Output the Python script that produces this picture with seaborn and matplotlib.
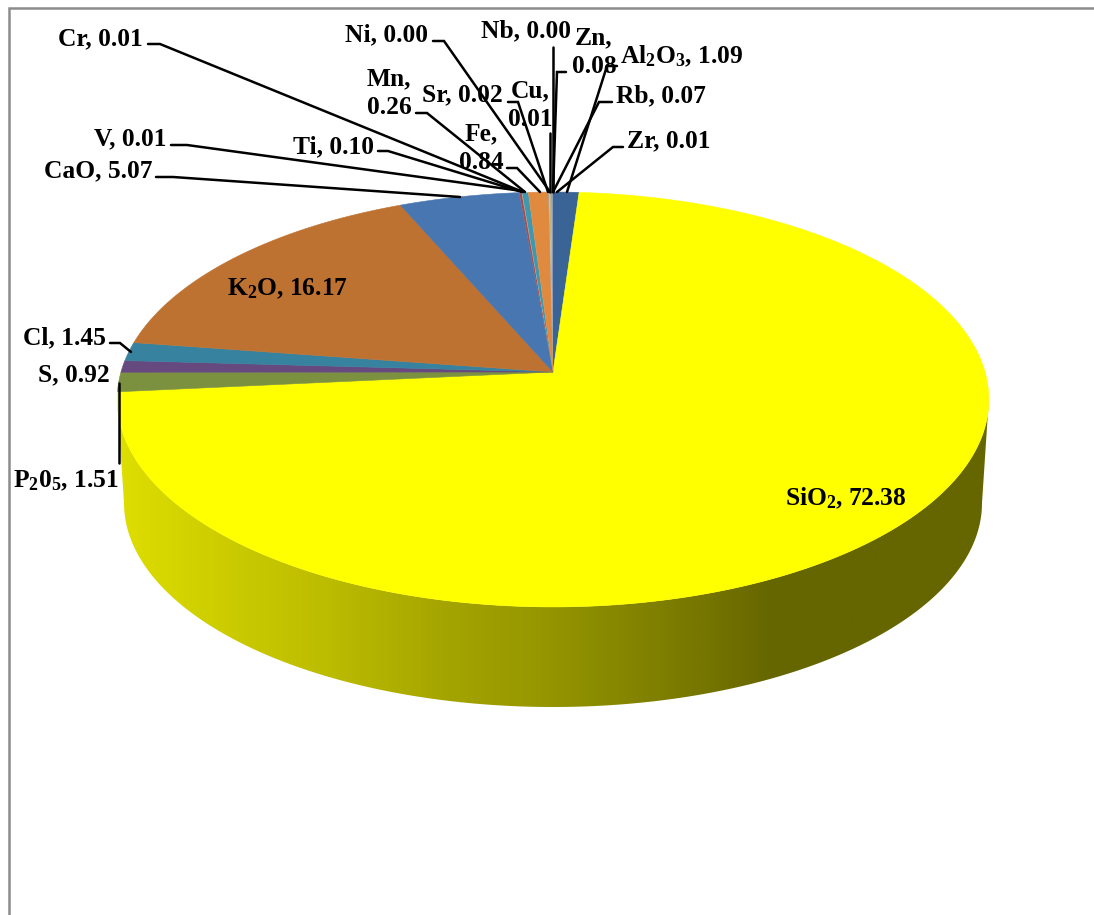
import numpy as np
import matplotlib
matplotlib.use("Agg")
import matplotlib.pyplot as plt
from matplotlib.colors import LinearSegmentedColormap
from matplotlib.patches import Polygon
import seaborn as sns

# Oxide / element composition, clockwise from twelve o'clock
names = ["Al$_{\\mathbf{2}}$O$_{\\mathbf{3}}$", "SiO$_{\\mathbf{2}}$", "P$_{\\mathbf{2}}$0$_{\\mathbf{5}}$",
         "S", "Cl", "K$_{\\mathbf{2}}$O", "CaO", "Ti", "V", "Cr", "Mn", "Fe",
         "Sr", "Ni", "Cu", "Nb", "Zn", "Rb", "Zr"]
values = [1.09, 72.38, 1.51, 0.92, 1.45, 16.17, 5.07, 0.10, 0.01, 0.01, 0.26, 0.84,
          0.02, 0.00, 0.01, 0.00, 0.08, 0.07, 0.01]
colors = ["#3A6496", "#FFFF00", "#7C913F", "#664A7F", "#37839F", "#BE7231", "#4876B0",
          "#A84C4A", "#85A03F", "#6C5590", "#3F98B0", "#E08A40",
          "#7A9EC9", "#C47D7B", "#A9C47E", "#9A8BB5", "#B9B489", "#8A94B4", "#5F86B8"]

# Label layout in figure pixels: name -> (x, y, horizontal anchor, line break after comma)
label_layout = {
    "Al": (620, 56, "left", False), "SiO": (785, 498, "left", False),
    "P$": (119, 481, "right", False), "S": (110, 375, "right", False),
    "Cl": (106, 338, "right", False), "K$": (227, 289, "left", False),
    "CaO": (153, 171, "right", False), "Ti": (374, 147, "right", False),
    "V": (166, 139, "right", False), "Cr": (143, 39, "right", False),
    "Mn": (389, 93, "center", True), "Fe": (481, 148, "center", True),
    "Sr": (503, 95, "right", False), "Ni": (428, 35, "right", False),
    "Cu": (530, 105, "center", True), "Nb": (571, 31, "right", False),
    "Zn": (594, 52, "center", True), "Rb": (616, 96, "left", False),
    "Zr": (627, 141, "left", False),
}
# Leader polylines in figure pixels
leaders = [
    [(148, 44), (160, 44), (523, 192)],
    [(171, 145), (187, 145), (522, 191)],
    [(156, 177), (173, 177), (460, 197)],
    [(378, 151), (388, 151), (522, 192)],
    [(416, 113), (427, 113), (525, 192)],
    [(507, 168), (517, 168), (540, 192)],
    [(433, 41), (444, 41), (550, 192)],
    [(508, 102), (518, 102), (548, 192)],
    [(550, 133), (550, 192)],
    [(553, 47), (553, 192)],
    [(566, 72), (557, 72), (553, 192)],
    [(617, 66), (607, 66), (567, 192)],
    [(612, 102), (599, 102), (553, 192)],
    [(623, 147), (613, 147), (557, 192)],
    [(110, 343), (120, 343), (131, 352)],
    [(119, 383), (119, 463)],
]

# Geometry of the tilted disc, figure pixels
APEX_X, APEX_Y = 553.0, 372.0
SCALE_X, SCALE_Y, PERSP = 432.0, 203.8, 0.1325
RIM_BOTTOM = dict(cx=553.0, cy=503.0, rx=429.0, ry=204.0)

sns.set_theme(style="white")
plt.rcParams["font.family"] = ["Liberation Serif", "DejaVu Serif"]
plt.rcParams["mathtext.fontset"] = "custom"
plt.rcParams["mathtext.rm"] = "Liberation Serif:bold"
plt.rcParams["mathtext.bf"] = "Liberation Serif:bold"
plt.rcParams["mathtext.default"] = "bf"

fig = plt.figure(figsize=(10.94, 9.15), dpi=100, facecolor="white")
ax = fig.add_axes([0, 0, 1, 1])


def project(theta):
    """Perspective projection of the unit circle; theta runs clockwise from the top."""
    u, v = np.sin(theta), np.cos(theta)
    w = 1 + PERSP * v
    return APEX_X + SCALE_X * u / w, APEX_Y - SCALE_Y * v / w


# Side wall with a horizontal shading gradient
t = np.linspace(0, 2 * np.pi, 721)
rim_x, rim_y = project(t)
left_i, right_i = np.argmin(rim_x), np.argmax(rim_x)
front = np.arange(right_i, left_i + 1)
phi = np.linspace(np.pi, 0, 361)
bx = RIM_BOTTOM["cx"] + RIM_BOTTOM["rx"] * np.cos(phi)
by = RIM_BOTTOM["cy"] + RIM_BOTTOM["ry"] * np.sin(phi)
side_xy = np.r_[np.c_[rim_x[front], rim_y[front]], np.c_[bx, by]]

side_stops = ["#DEDE00", "#CBCB00", "#BABA00", "#A4A400", "#949400", "#7E7E00",
              "#666600", "#666600", "#666600"]
side_cmap = LinearSegmentedColormap.from_list("side", sns.blend_palette(side_stops, 64))
gradient = ax.imshow(np.linspace(0, 1, 512)[None, :], extent=(119, 991, 720, 380),
                     cmap=side_cmap, aspect="auto", zorder=1, interpolation="bilinear")
clip = Polygon(side_xy, closed=True, transform=ax.transData, facecolor="none", edgecolor="none")
ax.add_patch(clip)
gradient.set_clip_path(clip)

# Top face slices, built from the cumulative values
edges = np.cumsum(np.r_[0.0, values]) / np.sum(values) * 2 * np.pi
for value, color, a0, a1 in zip(values, colors, edges[:-1], edges[1:]):
    if value <= 0:
        continue
    arc = np.linspace(a0, a1, max(3, int((a1 - a0) * 200)))
    px, py = project(arc)
    ax.fill(np.r_[APEX_X, px], np.r_[APEX_Y, py], color=color,
            lw=0.4 if value > 0.5 else 0, zorder=2)

# Leader lines
for pts in leaders:
    xs, ys = zip(*pts)
    ax.plot(xs, ys, color="black", lw=1.8, solid_joinstyle="miter", zorder=3)

# Data labels
for name, value in zip(names, values):
    key = next(k for k in label_layout if name.startswith(k) and
               (k != "S" or name == "S") and (k != "Cr" or name == "Cr"))
    x, y, ha, wrap = label_layout[key]
    sep = ",\n" if wrap else ", "
    ax.text(x, y, f"{name}{sep}{value:.2f}", ha=ha, va="center", ma="center",
            fontsize=18.4, fontweight="bold", color="black", linespacing=1.3, zorder=4)

# Chart-area frame, open on the right and bottom edges
ax.plot([9, 9, 1094], [915, 8, 8], color="#8C8C8C", lw=1.8, solid_joinstyle="miter", zorder=5)

ax.set_xlim(0, 1094)
ax.set_ylim(915, 0)
ax.axis("off")
fig.savefig("out.png", dpi=100)
